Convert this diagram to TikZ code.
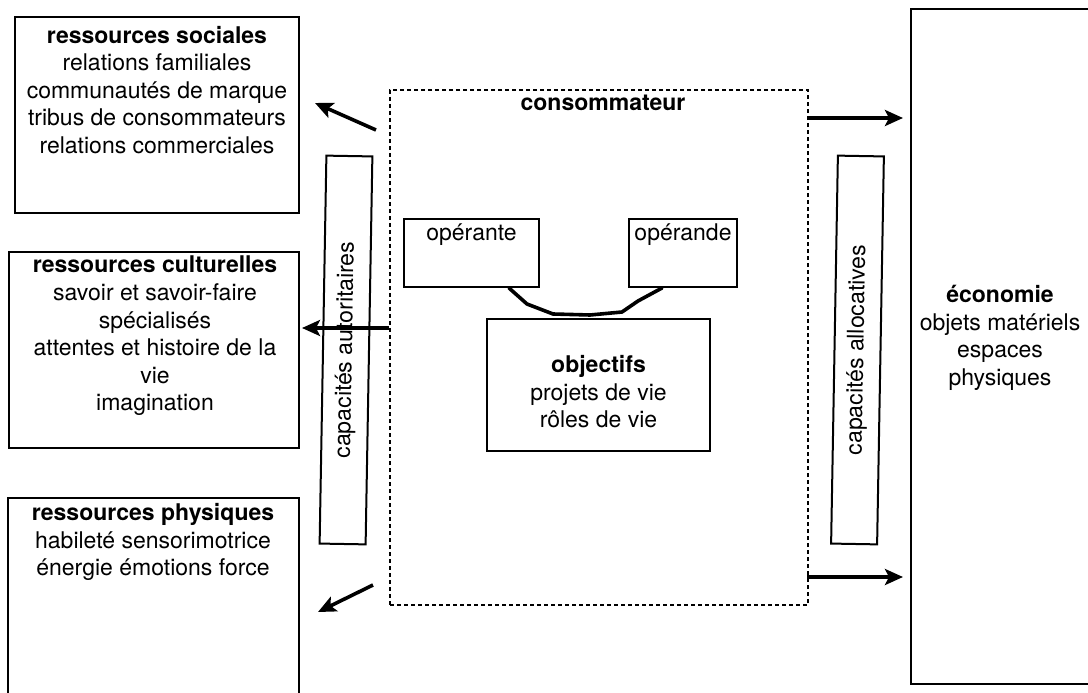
\documentclass[tikz,border=0pt]{standalone}
\usepackage{fontspec}
\setmainfont{TeX Gyre Heros}
\usetikzlibrary{arrows.meta,calc}
\begin{document}
\begin{tikzpicture}[x=1pt,y=-1pt,
  box/.style={draw, line width=2pt, inner sep=0pt},
  txt/.style={align=center, font=\fontsize{23}{27.6}\selectfont, inner sep=0pt},
  arr/.style={line width=3.6pt, -{Stealth[length=18pt,width=16pt,inset=4pt]}},
  dashbox/.style={draw, line width=2pt, dash pattern=on 4pt off 3pt, inner sep=0pt},
  link/.style={line width=3.6pt, line join=round, line cap=round}
]
\clip (0,0) rectangle (1088,693);
% left resource boxes
\node[box, minimum width=284pt, minimum height=196pt] (soc) at (157,115) {};
\node[txt] (soct) at (157,90) {\textbf{ressources sociales}\\relations familiales\\communautés de marque\\tribus de consommateurs\\relations commerciales};
\node[box, minimum width=290pt, minimum height=196pt] (cul) at (154,350) {};
\node[txt] (cult) at (155,336) {\textbf{ressources culturelles}\\savoir et savoir-faire\\spécialisés\\attentes et histoire de la\\vie\\imagination};
\node[box, minimum width=291pt, minimum height=212pt] (phy) at (153.5,604) {};
\node[txt] (phyt) at (153,542) {\textbf{ressources physiques}\\habileté sensorimotrice\\énergie émotions force};
% consumer
\node[dashbox, minimum width=418pt, minimum height=515pt] (cons) at (599,347.5) {};
\node[txt] (const) at (603,103) {\textbf{consommateur}};
\node[box, minimum width=135pt, minimum height=68pt] (op1) at (471.5,253) {};
\node[txt] (op1t) at (471.5,235) {opérante};
\node[box, minimum width=108pt, minimum height=68pt] (op2) at (683,253) {};
\node[txt] (op2t) at (683,235) {opérande};
\node[box, minimum width=223pt, minimum height=132pt] (obj) at (598.5,385) {};
\node[txt] (objt) at (598.5,392) {\textbf{objectifs}\\projets de vie\\rôles de vie};
% capacities
\node[box, txt, draw, line width=2pt, rotate=89, minimum width=388pt, minimum height=46pt] (aut) at (346,350) {capacités autoritaires};
\node[box, txt, draw, line width=2pt, rotate=89, minimum width=388pt, minimum height=46pt] (all) at (857.5,350) {capacités allocatives};
% economy
\node[box, minimum width=181pt, minimum height=675pt] (eco) at (1001.5,346.5) {};
\node[txt] (ecot) at (1000,338) {\textbf{économie}\\objets matériels\\espaces\\physiques};
% link between operante and operande
\coordinate (l0) at ($(op1.south west)+(106,0)$);
\coordinate (l6) at ($(op2.south west)+(34,0)$);
\draw[link] (l0) -- (527,304) -- (553,314) -- (590,315) -- (622,312) -- (638,301) -- (l6);
% arrows
\coordinate (a1s) at (376,130); \coordinate (a1e) at (315,103);
\coordinate (a2s) at (389,328); \coordinate (a2e) at (302,328);
\coordinate (a3s) at (373,585); \coordinate (a3e) at (318,612);
\coordinate (a4s) at (807,118); \coordinate (a4e) at (903,118);
\coordinate (a5s) at (807,577); \coordinate (a5e) at (903,577);
\draw[arr] (a1s) -- (a1e);
\draw[arr] (a2s) -- (a2e);
\draw[arr] (a3s) -- (a3e);
\draw[arr] (a4s) -- (a4e);
\draw[arr] (a5s) -- (a5e);
\end{tikzpicture}
\end{document}
